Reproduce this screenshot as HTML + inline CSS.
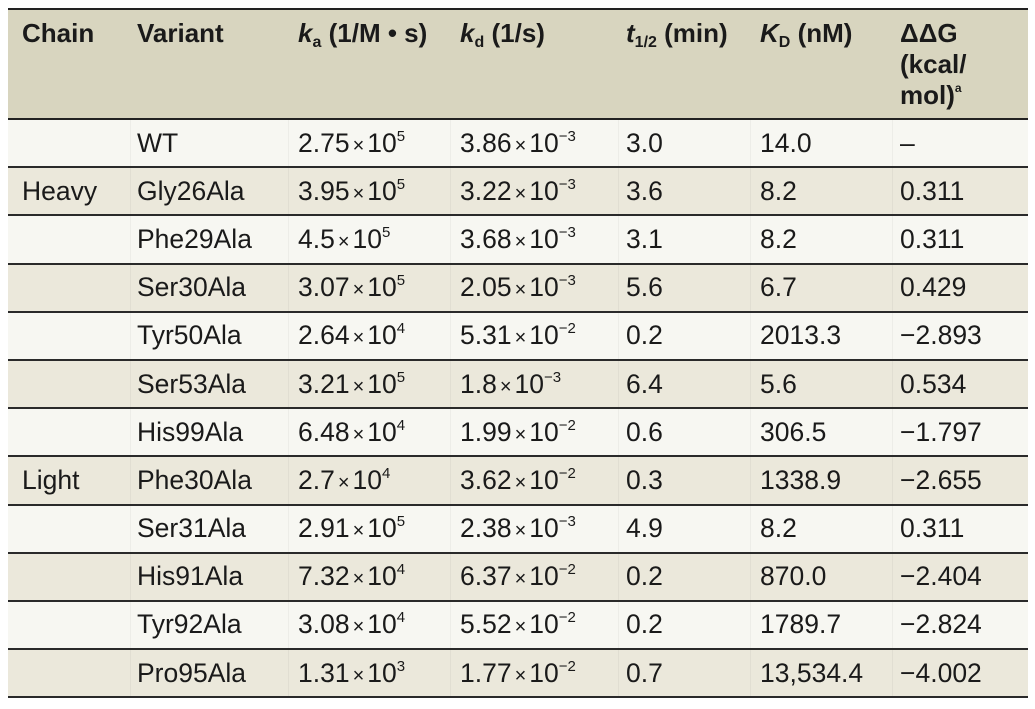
<!DOCTYPE html>
<html><head><meta charset="utf-8"><style>
*{margin:0;padding:0;box-sizing:border-box}
body{width:1035px;height:709px;background:#fff;font-family:"Liberation Sans",sans-serif;color:#1a1a1a;position:relative;overflow:hidden}
.t{position:absolute;left:8px;top:8px;width:1020px}
.hd{height:112px;background:#d8d5bf;border-top:2px solid #222;border-bottom:2px solid #222;position:relative;font-weight:bold;font-size:26px}
.r{height:48.2px;position:relative;border-bottom:2px solid #2a2a2a;font-size:26.5px}
.r.a{background:#f7f7f2}.r.b{background:#ebe8db}
.c{position:absolute;top:0;height:100%;display:flex;align-items:center;white-space:nowrap}
.hd .c{align-items:flex-start;padding-top:8px;line-height:31px}
.v{position:absolute;top:0;height:100%;width:1px;background:rgba(0,0,0,0.04)}
sup{font-size:15px;position:relative;top:-11px;vertical-align:baseline;line-height:0}
sub{font-size:16px;position:relative;top:5px;vertical-align:baseline;line-height:0}
.x{font-size:20px;margin:0 3px}
</style></head><body><div class="t" id="t">
<div class="hd">
<div class="c" style="left:14px"><span>Chain</span></div>
<div class="c" style="left:129px"><span>Variant</span></div>
<div class="c" style="left:290px"><span><i>k</i><sub>a</sub>&nbsp;(1/M • s)</span></div>
<div class="c" style="left:452px"><span><i>k</i><sub>d</sub>&nbsp;(1/s)</span></div>
<div class="c" style="left:618px"><span><i>t</i><sub>1/2</sub>&nbsp;(min)</span></div>
<div class="c" style="left:752px"><span><i>K</i><sub>D</sub>&nbsp;(nM)</span></div>
<div class="c" style="left:892px"><span>ΔΔG<br>(kcal/<br>mol)<sup style="font-size:12px;top:-12px">a</sup></span></div>
</div>
</div>
<script>
var d=[["","WT","2.75","5","3.86","-3","3.0","14.0","–"],
["Heavy","Gly26Ala","3.95","5","3.22","-3","3.6","8.2","0.311"],
["","Phe29Ala","4.5","5","3.68","-3","3.1","8.2","0.311"],
["","Ser30Ala","3.07","5","2.05","-3","5.6","6.7","0.429"],
["","Tyr50Ala","2.64","4","5.31","-2","0.2","2013.3","−2.893"],
["","Ser53Ala","3.21","5","1.8","-3","6.4","5.6","0.534"],
["","His99Ala","6.48","4","1.99","-2","0.6","306.5","−1.797"],
["Light","Phe30Ala","2.7","4","3.62","-2","0.3","1338.9","−2.655"],
["","Ser31Ala","2.91","5","2.38","-3","4.9","8.2","0.311"],
["","His91Ala","7.32","4","6.37","-2","0.2","870.0","−2.404"],
["","Tyr92Ala","3.08","4","5.52","-2","0.2","1789.7","−2.824"],
["","Pro95Ala","1.31","3","1.77","-2","0.7","13,534.4","−4.002"]];
var h="";
d.forEach(function(r,i){
h+='<div class="r '+(i%2?'b':'a')+'">';
[122,280,442,610,742,884].forEach(function(x){h+='<div class="v" style="left:'+x+'px"></div>'});
h+='<div class="c" style="left:14px"><span>'+r[0]+'</span></div>';
h+='<div class="c" style="left:129px"><span>'+r[1]+'</span></div>';
h+='<div class="c" style="left:290px"><span>'+r[2]+'<span class="x">×</span>10<sup>'+r[3]+'</sup></span></div>';
h+='<div class="c" style="left:452px"><span>'+r[4]+'<span class="x">×</span>10<sup>'+r[5].replace('-','−')+'</sup></span></div>';
h+='<div class="c" style="left:618px"><span>'+r[6]+'</span></div>';
h+='<div class="c" style="left:752px"><span>'+r[7]+'</span></div>';
h+='<div class="c" style="left:892px"><span>'+r[8]+'</span></div>';
h+='</div>';});
document.getElementById('t').insertAdjacentHTML('beforeend',h);
</script>
</body></html>
